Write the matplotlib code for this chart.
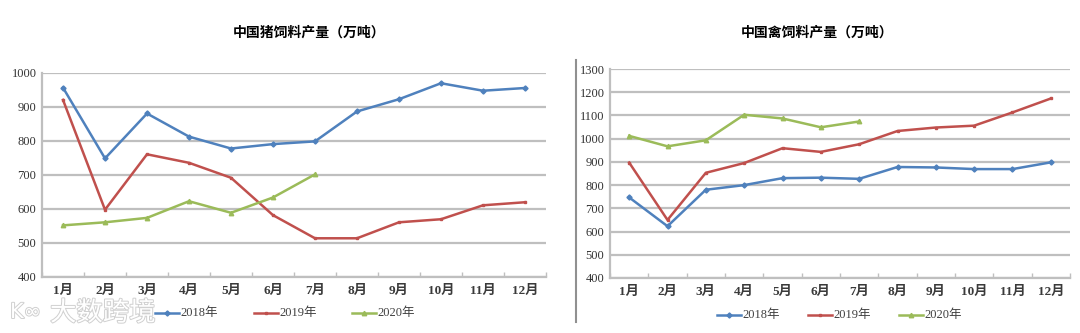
import matplotlib
matplotlib.use("Agg")
import matplotlib.pyplot as plt
import matplotlib.patheffects as pe
from matplotlib.lines import Line2D

plt.rcParams['font.family'] = ['Liberation Serif', 'Noto Sans CJK SC', 'DejaVu Sans']

months = ['1月', '2月', '3月', '4月', '5月', '6月', '7月', '8月', '9月', '10月', '11月', '12月']
years = ['2018年', '2019年', '2020年']

# 猪饲料产量（万吨）
pig_2018 = [956, 748, 880, 812, 777, 790, 798, 886, 922, 969, 947, 955]
pig_2019 = [920, 597, 760, 735, 691, 581, 513, 513, 560, 569, 610, 619]
pig_2020 = [551, 560, 573, 622, 588, 633, 701]

# 禽饲料产量（万吨）
poultry_2018 = [747, 623, 780, 800, 830, 832, 827, 878, 876, 869, 869, 898]
poultry_2019 = [897, 650, 853, 895, 959, 943, 976, 1033, 1048, 1056, 1113, 1173]
poultry_2020 = [1012, 967, 993, 1103, 1087, 1049, 1074]

colors = ['#4F81BD', '#C0504D', '#9BBB59']
markers = ['D', 's', '^']
msizes = [2.6, 2.0, 3.2]
grid_c = '#BFBFBF'

fig = plt.figure(figsize=(10.8, 3.33), dpi=100)
ax1 = fig.add_axes([42/1080, 1-276.7/333, 504/1080, 204/333])
ax2 = fig.add_axes([610/1080, 1-278/333, 460/1080, 209/333])


def draw(ax, series, ylim, step):
    for s, c, m, ms in zip(series, colors, markers, msizes):
        x = list(range(len(s)))
        ax.plot(x, s, color=c, lw=1.8, marker=m, ms=ms, mec=c, mfc=c, zorder=3)
    ax.set_xlim(-0.5, 11.5)
    ax.set_ylim(*ylim)
    ax.set_yticks(range(ylim[0], ylim[1] + 1, step))
    ax.set_xticks(range(12))
    ax.set_xticklabels(months, fontsize=9.5, fontweight='semibold', color='#3a3a3a')
    ax.set_xticks([i + 0.5 for i in range(-1, 12)], minor=True)
    ax.tick_params(axis='x', which='major', length=0, pad=6)
    ax.tick_params(axis='x', which='minor', direction='in', length=3.5, color=grid_c, width=1)
    ax.tick_params(axis='y', length=0, pad=4, labelsize=9, labelcolor='#333333')
    ax.grid(axis='y', color=grid_c, lw=1.6)
    ax.set_axisbelow(True)
    for sp in ['top', 'right']:
        ax.spines[sp].set_visible(False)
    for sp in ['left', 'bottom']:
        ax.spines[sp].set_color(grid_c)
        ax.spines[sp].set_linewidth(1.6)


draw(ax1, [pig_2018, pig_2019, pig_2020], (400, 1000), 100)
draw(ax2, [poultry_2018, poultry_2019, poultry_2020], (400, 1300), 100)

fig.text(309/1080, 1-33/333, '中国猪饲料产量（万吨）', ha='center', va='center',
         fontsize=10, fontweight='bold', family=['Noto Sans CJK SC'])
fig.text(817/1080, 1-33/333, '中国禽饲料产量（万吨）', ha='center', va='center',
         fontsize=10, fontweight='bold', family=['Noto Sans CJK SC'])

# legends
def legend(xs, y):
    for xl, c, m, ms, lab in zip(xs, colors, markers, msizes, years):
        x0, x1 = xl / 1080, (xl + 24) / 1080
        yy = 1 - y / 333
        fig.add_artist(Line2D([x0, x1], [yy, yy], color=c, lw=1.8,
                              transform=fig.transFigure))
        fig.add_artist(Line2D([(x0 + x1) / 2], [yy], color=c, marker=m, ms=ms,
                              transform=fig.transFigure))
        fig.text(x1 + 1/1080, yy, lab, ha='left', va='center', fontsize=9,
                 color='#404040')


legend([155, 254, 352], 313)
legend([717, 808, 899], 315)

# divider between the two panels
fig.add_artist(Line2D([576/1080, 576/1080], [1-60/333, 1-322/333], color='#909090',
                      lw=1.5, transform=fig.transFigure))

# watermark
fig.text(50/1080, 1-313/333, '大数跨境', ha='left', va='center', fontsize=19,
         color='white', family=['Noto Sans CJK SC'],
         path_effects=[pe.withStroke(linewidth=1.4, foreground='#D0D0D0')])
fig.text(10/1080, 1-312/333, 'K∞', ha='left', va='center', fontsize=15,
         color='white', family=['DejaVu Sans'],
         path_effects=[pe.withStroke(linewidth=1.4, foreground='#D0D0D0')])

fig.savefig('out.png', dpi=100)
